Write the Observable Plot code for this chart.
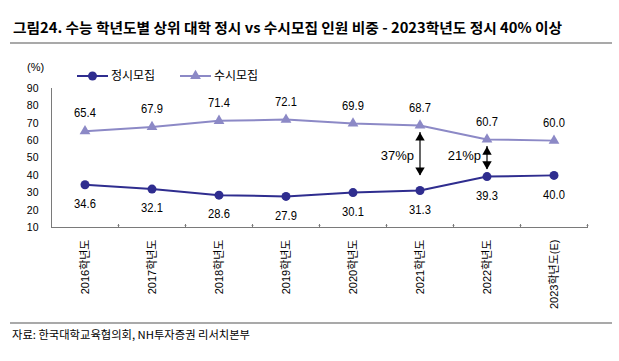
<!DOCTYPE html>
<html><head><meta charset="utf-8">
<script src="https://cdn.jsdelivr.net/npm/d3@7"></script>
<script src="https://cdn.jsdelivr.net/npm/@observablehq/plot@0.6"></script>
<style>
body{margin:0;background:#fff;}
#wrap{position:relative;width:619px;height:361px;overflow:hidden;font-family:"Liberation Sans",Arial,"Noto Sans CJK KR",sans-serif;color:#000;background:#fff}
.abs{position:absolute;white-space:nowrap}
#title{left:13px;top:19px;font-family:"Noto Sans CJK KR",sans-serif;font-weight:700;font-size:14px;line-height:16px;transform-origin:0 50%;display:inline-block}
.rule{left:10px;width:602px;height:2px;background:#a9a9a9}
#unit{left:27px;top:60px;font-size:11px;line-height:14px}
.legtext{font-family:"Noto Sans CJK KR",sans-serif;font-size:12px;line-height:14px}
#source{left:12px;top:327px;font-family:"Noto Sans CJK KR",sans-serif;font-size:11px;line-height:14px;transform-origin:0 50%;display:inline-block}
#chart{left:0;top:82px}
</style></head>
<body>
<div id="wrap">
  <div class="abs" id="title">그림24. 수능 학년도별 상위 대학 정시 vs 수시모집 인원 비중 - 2023학년도 정시 40% 이상</div>
  <div class="abs rule" style="top:42px"></div>
  <div class="abs" id="unit">(%)</div>
  <div class="abs" id="legend" style="left:0;top:0;width:300px;height:82px"></div>
  <div class="abs" id="chart"></div>
  <div class="abs rule" style="top:322px"></div>
  <div class="abs" id="source">자료: 한국대학교육협의회, NH투자증권 리서치본부</div>
</div>
<script>
const years = ["2016학년도","2017학년도","2018학년도","2019학년도","2020학년도","2021학년도","2022학년도","2023학년도(E)"];
const jeongsi = [34.6,32.1,28.6,27.9,30.1,31.3,39.3,40.0];
const susi = [65.4,67.9,71.4,72.1,69.9,68.7,60.7,60.0];
const yTicks = [10,20,30,40,50,60,70,80,90];
const seriesNames = ["정시모집","수시모집"];
const annYears = ["2021학년도","2022학년도"];
const annLabels = ["37%p","21%p"];
const annTop = [64.7,56.6];
const annBottom = [39.9,43.4];
const annLabelY = [51,51];

const NAVY = "#2f2d8f";
const LIGHT = "#8c89c6";
const AXIS = "#7a7a7a";
const NUMFONT = '"Liberation Sans",Arial,sans-serif';

const rows = years.map((y,i)=>({year:y, jeongsi:jeongsi[i], susi:susi[i]}));
const ann = annYears.map((y,i)=>({year:y, top:annTop[i], bottom:annBottom[i], label:annLabels[i], ly:annLabelY[i]}));

const W = 619, H = 243, ML = 51, MR = 32, MT = 6, MB = 98;
const bw = (W - ML - MR) / years.length;

const plot = Plot.plot({
  width: W, height: H,
  marginLeft: ML, marginRight: MR, marginTop: MT, marginBottom: MB,
  style: {overflow: "visible", background: "transparent", fontFamily: '"Liberation Sans",Arial,sans-serif', color: "#000"},
  x: {type: "band", domain: years, padding: 0},
  y: {domain: [10, 90]},
  marks: [
    Plot.axisY({ticks: yTicks, tickSize: 0, tickPadding: 13, fontSize: 10.5, label: null, fill: "#000"}),
    Plot.axisX({tickSize: 0, tickPadding: 12, tickRotate: -90, fontSize: 11, label: null, fill: "#000",
      fontFamily: '"Liberation Sans",Arial,"Noto Sans CJK KR",sans-serif', className: "xlab"}),
    Plot.frame({anchor: "left", stroke: AXIS}),
    Plot.frame({anchor: "bottom", stroke: AXIS}),
    Plot.vector(years, {x: d => d, y: () => 10, length: 3, anchor: "start", dx: bw / 2, stroke: AXIS, strokeWidth: 1}),
    Plot.line(rows, {x: "year", y: "susi", stroke: LIGHT, strokeWidth: 2}),
    Plot.line(rows, {x: "year", y: "jeongsi", stroke: NAVY, strokeWidth: 2}),
    Plot.dot(rows, {x: "year", y: "susi", symbol: "triangle", r: 4, fill: LIGHT, stroke: "none"}),
    Plot.dot(rows, {x: "year", y: "jeongsi", symbol: "circle", r: 4.5, fill: NAVY, stroke: "none"}),
    Plot.text(rows, {x: "year", y: "susi", text: d => d.susi.toFixed(1), dy: -18, fontSize: 13, fontFamily: NUMFONT, fill: "#000", className: "vlab"}),
    Plot.text(rows, {x: "year", y: "jeongsi", text: d => d.jeongsi.toFixed(1), dy: 19, fontSize: 13, fontFamily: NUMFONT, fill: "#000", className: "vlab"}),
    Plot.ruleX(ann, {x: "year", y1: "top", y2: "bottom", stroke: "#000", strokeWidth: 1.2}),
    Plot.dot(ann, {x: "year", y: "top", symbol: "triangle", r: 3.5, fill: "#000", stroke: "none", dy: 5.4}),
    Plot.dot(ann, {x: "year", y: "bottom", symbol: "triangle", rotate: 180, r: 3.5, fill: "#000", stroke: "none", dy: -5.4}),
    Plot.text(ann, {x: "year", y: "ly", text: "label", textAnchor: "end", dx: -6, fontSize: 13, fill: "#000"})
  ]
});
document.getElementById("chart").appendChild(plot);

// condense the value labels like the reference's narrow numerals
plot.querySelectorAll(".vlab text").forEach(t => {
  const w = t.getComputedTextLength();
  if (w > 0) { t.setAttribute("textLength", (w * 0.86).toFixed(2)); t.setAttribute("lengthAdjust", "spacingAndGlyphs"); }
});

// legend
const leg = document.getElementById("legend");
const ns = "http://www.w3.org/2000/svg";
const lsvg = document.createElementNS(ns, "svg");
lsvg.setAttribute("width", 300); lsvg.setAttribute("height", 82);
lsvg.style.position = "absolute"; lsvg.style.left = "0"; lsvg.style.top = "0";
leg.appendChild(lsvg);
const legItems = [
  {name: seriesNames[0], color: NAVY, sym: "circle", x0: 77},
  {name: seriesNames[1], color: LIGHT, sym: "triangle", x0: 180}
];
const LY = 76;
legItems.forEach(it => {
  const ln = document.createElementNS(ns, "line");
  ln.setAttribute("x1", it.x0); ln.setAttribute("x2", it.x0 + 31);
  ln.setAttribute("y1", LY); ln.setAttribute("y2", LY);
  ln.setAttribute("stroke", it.color); ln.setAttribute("stroke-width", 2);
  lsvg.appendChild(ln);
  const p = document.createElementNS(ns, "path");
  const sym = it.sym === "circle" ? d3.symbolCircle : d3.symbolTriangle;
  const size = it.sym === "circle" ? Math.PI * 4.5 * 4.5 : Math.PI * 4 * 4;
  p.setAttribute("d", d3.symbol(sym, size)());
  p.setAttribute("transform", `translate(${it.x0 + 15.5},${LY})`);
  p.setAttribute("fill", it.color);
  lsvg.appendChild(p);
  const t = document.createElement("div");
  t.className = "abs legtext";
  t.textContent = it.name;
  t.style.left = (it.x0 + 34) + "px";
  t.style.top = (LY - 8) + "px";
  leg.appendChild(t);
});

// fit condensed text widths
function fit(id, target) {
  const el = document.getElementById(id);
  const w = el.getBoundingClientRect().width;
  el.style.transform = `scaleX(${target / w})`;
}
fit("title", 549);
fit("source", 238);
</script>
</body></html>
